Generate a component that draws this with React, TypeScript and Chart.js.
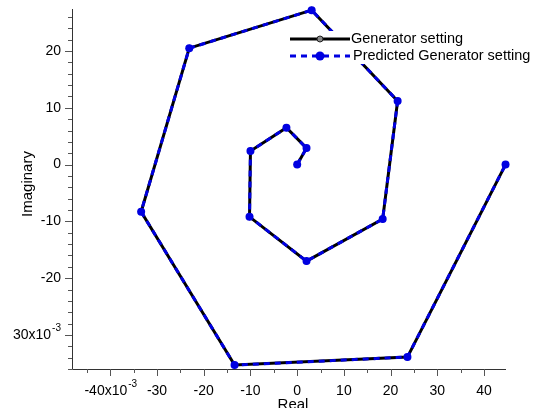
import React, { useEffect, useRef } from "react";
import { Chart, registerables } from "chart.js";

Chart.register(...registerables);

const realValues = [0, 2.0, -2.3, -10.0, -10.2, 2.0, 18.3, 21.5, 3.1, -23.1, -33.4, -13.4, 23.6, 44.6];
const imagValues = [0, 2.9, 6.5, 2.4, -9.2, -17.0, -9.6, 11.2, 27.2, 20.5, -8.3, -35.3, -33.9, 0];
const predRealValues = [0, 2.0, -2.3, -10.0, -10.2, 2.0, 18.3, 21.5, 3.1, -23.1, -33.4, -13.4, 23.6, 44.6];
const predImagValues = [0, 2.9, 6.5, 2.4, -9.2, -17.0, -9.6, 11.2, 27.2, 20.5, -8.3, -35.3, -33.9, 0];

const xMajorTicks = [-40, -30, -20, -10, 0, 10, 20, 30, 40];
const xMinorTicks = [-45, -35, -25, -15, -5, 5, 15, 25, 35];
const yMajorTicks = [-30, -20, -10, 0, 10, 20];
const yMinorTicks = [-36, -34, -32, -28, -26, -24, -22, -18, -16, -14, -12, -8, -6, -4, -2, 2, 4, 6, 8, 12, 14, 16, 18, 22, 24, 26];

const seriesNames = ["Generator setting", "Predicted Generator setting"];
const xTitle = "Real";
const yTitle = "Imaginary";

const FONT = '14px "Liberation Sans", Arial, sans-serif';
const TITLE_FONT = '15px "Liberation Sans", Arial, sans-serif';
const LEGEND_FONT = '14.5px "Liberation Sans", Arial, sans-serif';
const SUP_FONT = '10px "Liberation Sans", Arial, sans-serif';
const BLUE = "rgb(0,0,225)";

const axesPlugin = {
  id: "customAxes",
  afterDraw(chart: any) {
    const ctx = chart.ctx;
    const xs = chart.scales.x;
    const ys = chart.scales.y;
    const area = chart.chartArea;
    ctx.save();
    // axis lines
    ctx.strokeStyle = "#333";
    ctx.lineWidth = 1;
    ctx.beginPath();
    ctx.moveTo(area.left + 0.5, area.top);
    ctx.lineTo(area.left + 0.5, area.bottom + 0.5);
    ctx.lineTo(area.right, area.bottom + 0.5);
    ctx.stroke();
    // ticks
    ctx.strokeStyle = "#555";
    ctx.beginPath();
    xMajorTicks.forEach((v) => {
      const px = Math.round(xs.getPixelForValue(v)) + 0.5;
      ctx.moveTo(px, area.bottom);
      ctx.lineTo(px, area.bottom + 7);
    });
    xMinorTicks.forEach((v) => {
      const px = Math.round(xs.getPixelForValue(v)) + 0.5;
      ctx.moveTo(px, area.bottom);
      ctx.lineTo(px, area.bottom + 4);
    });
    yMajorTicks.forEach((v) => {
      const py = Math.round(ys.getPixelForValue(v)) + 0.5;
      ctx.moveTo(area.left, py);
      ctx.lineTo(area.left - 7, py);
    });
    yMinorTicks.forEach((v) => {
      const py = Math.round(ys.getPixelForValue(v)) + 0.5;
      ctx.moveTo(area.left, py);
      ctx.lineTo(area.left - 4, py);
    });
    ctx.stroke();

    // tick labels
    ctx.fillStyle = "#000";
    ctx.font = FONT;
    ctx.textBaseline = "middle";
    xMajorTicks.forEach((v, i) => {
      const px = xs.getPixelForValue(v);
      const py = area.bottom + 22;
      if (i === 0) {
        const main = String(v) + "x10";
        ctx.font = FONT;
        const w1 = ctx.measureText(main).width;
        ctx.font = SUP_FONT;
        const w2 = ctx.measureText("-3").width;
        const start = px - (w1 + w2) / 2;
        ctx.font = FONT;
        ctx.textAlign = "left";
        ctx.fillText(main, start, py);
        ctx.font = SUP_FONT;
        ctx.fillText("-3", start + w1 + 1, py - 7);
        ctx.font = FONT;
      } else {
        ctx.textAlign = "center";
        ctx.fillText(String(v), px, py);
      }
    });
    yMajorTicks.forEach((v, i) => {
      const py = ys.getPixelForValue(v);
      const right = area.left - 11;
      if (i === 0) {
        const main = String(Math.abs(v)) + "x10";
        ctx.font = SUP_FONT;
        const w2 = ctx.measureText("-3").width;
        ctx.textAlign = "left";
        ctx.fillText("-3", right - w2, py - 7);
        ctx.font = FONT;
        ctx.textAlign = "right";
        ctx.fillText(main, right - w2 - 1, py);
      } else {
        ctx.font = FONT;
        ctx.textAlign = "right";
        ctx.fillText(String(v), right, py);
      }
    });

    // axis titles
    ctx.font = TITLE_FONT;
    ctx.textAlign = "center";
    ctx.fillText(xTitle, (area.left + area.right) / 2 + 4, area.bottom + 36);
    ctx.save();
    ctx.translate(28, (area.top + area.bottom) / 2 - 5);
    ctx.rotate(-Math.PI / 2);
    ctx.fillText(yTitle, 0, 0);
    ctx.restore();

    // legend
    ctx.fillStyle = "#fff";
    ctx.fillRect(288, 31, 250, 33);
    // series 1
    ctx.strokeStyle = "#000";
    ctx.lineWidth = 3;
    ctx.setLineDash([]);
    ctx.beginPath();
    ctx.moveTo(290, 39);
    ctx.lineTo(350, 39);
    ctx.stroke();
    ctx.beginPath();
    ctx.arc(320, 39, 3, 0, Math.PI * 2);
    ctx.fillStyle = "#888";
    ctx.fill();
    ctx.lineWidth = 1;
    ctx.strokeStyle = "#222";
    ctx.stroke();
    // series 2
    ctx.strokeStyle = BLUE;
    ctx.lineWidth = 3;
    ctx.setLineDash([6, 5]);
    ctx.beginPath();
    ctx.moveTo(290, 56);
    ctx.lineTo(350, 56);
    ctx.stroke();
    ctx.setLineDash([]);
    ctx.beginPath();
    ctx.arc(320, 56, 4.5, 0, Math.PI * 2);
    ctx.fillStyle = BLUE;
    ctx.fill();
    ctx.fillStyle = "#000";
    ctx.font = LEGEND_FONT;
    ctx.textAlign = "left";
    ctx.fillText(seriesNames[0], 351, 39);
    ctx.fillText(seriesNames[1], 353, 56);
    ctx.restore();
  },
};

export default function App() {
  const ref = useRef<HTMLCanvasElement | null>(null);
  useEffect(() => {
    if (!ref.current) return;
    const d1 = realValues.map((x, i) => ({ x, y: imagValues[i] }));
    const d2 = predRealValues.map((x, i) => ({ x, y: predImagValues[i] }));
    const chart = new Chart(ref.current, {
      type: "scatter",
      data: {
        datasets: [
          {
            label: seriesNames[0],
            data: d1,
            showLine: true,
            order: 1,
            borderColor: "#000",
            borderWidth: 3,
            pointRadius: 3,
            pointBackgroundColor: "#888",
            pointBorderColor: "#222",
            pointBorderWidth: 1,
            clip: false as any,
          },
          {
            label: seriesNames[1],
            data: d2,
            showLine: true,
            order: 0,
            borderColor: BLUE,
            borderWidth: 3,
            borderDash: [6, 5],
            pointRadius: 4,
            pointBackgroundColor: BLUE,
            pointBorderColor: BLUE,
            pointBorderWidth: 0,
            clip: false as any,
          },
        ],
      },
      options: {
        animation: false,
        responsive: false,
        devicePixelRatio: 1,
        layout: { padding: { left: 72, right: 37, top: 9, bottom: 39 } },
        scales: {
          x: { type: "linear", min: -48.2, max: 44.7, display: false },
          y: { type: "linear", min: -36, max: 27.4, display: false },
        },
        plugins: { legend: { display: false }, tooltip: { enabled: false } },
      },
      plugins: [axesPlugin],
    });
    return () => chart.destroy();
  }, []);
  return (
    <div style={{ position: "absolute", left: 0, top: 0, width: 543, height: 408, background: "#fff" }}>
      <canvas ref={ref} width={543} height={408} style={{ display: "block" }} />
    </div>
  );
}
